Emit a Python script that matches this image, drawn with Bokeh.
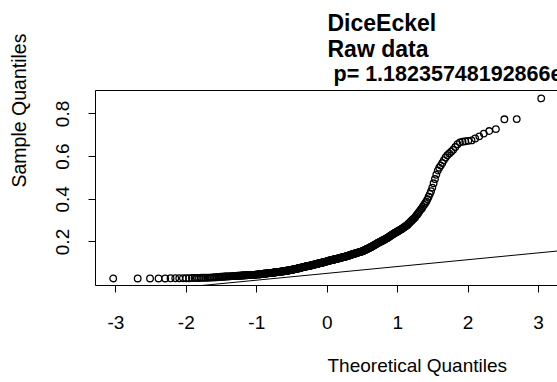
import math
from statistics import NormalDist
from bokeh.plotting import figure
from bokeh.models import Range1d, FixedTicker, Label, BoxAnnotation
from bokeh.embed import file_html
from bokeh.resources import INLINE

# ---------------- data ----------------
title_lines = ["DiceEckel", "Raw data", "p= 1.18235748192866e"]
x_axis_title = "Theoretical Quantiles"
y_axis_title = "Sample Quantiles"
x_ticks = [-3, -2, -1, 0, 1, 2, 3]
y_ticks = [0.2, 0.4, 0.6, 0.8]

# sorted sample values (one per plotted circle)
sample_quantiles = [
    0.029, 0.029, 0.029, 0.029, 0.029, 0.030, 0.030, 0.030, 0.030, 0.030,
    0.030, 0.031, 0.031, 0.031, 0.031, 0.032, 0.032,
    0.032, 0.032, 0.033, 0.033, 0.034, 0.034, 0.035, 0.035, 0.036, 0.036, 0.037,
    0.037, 0.037, 0.038, 0.038, 0.038, 0.039, 0.039, 0.039, 0.040, 0.040, 0.040,
    0.041, 0.041, 0.041, 0.042, 0.042,
    0.042, 0.042, 0.043, 0.043, 0.043, 0.043, 0.044, 0.044, 0.044, 0.044, 0.045,
    0.045, 0.045, 0.045, 0.045, 0.046, 0.046, 0.046, 0.046, 0.046, 0.047, 0.047, 0.047,
    0.048, 0.048, 0.048, 0.049, 0.049, 0.049, 0.050, 0.050, 0.050, 0.051, 0.051,
    0.051, 0.052, 0.052, 0.052, 0.053, 0.053, 0.053, 0.054, 0.054, 0.054, 0.055,
    0.055, 0.055, 0.056, 0.056, 0.056, 0.057,
    0.057, 0.058, 0.058, 0.058, 0.059, 0.059, 0.059, 0.060, 0.060, 0.060, 0.061,
    0.061, 0.061, 0.062, 0.062, 0.062, 0.063, 0.063, 0.063, 0.064, 0.064, 0.064,
    0.065, 0.065, 0.065, 0.066, 0.066, 0.066, 0.067, 0.067, 0.068, 0.068, 0.069,
    0.069, 0.070,
    0.070, 0.071, 0.071, 0.072, 0.072, 0.073, 0.073, 0.074, 0.074, 0.075, 0.075,
    0.076, 0.076, 0.077, 0.077, 0.078, 0.078, 0.079, 0.079, 0.080, 0.080, 0.081,
    0.081, 0.082, 0.082, 0.083, 0.083, 0.084, 0.084, 0.085, 0.085, 0.086, 0.086,
    0.087, 0.087, 0.087, 0.088, 0.088,
    0.089, 0.089, 0.090, 0.090, 0.091, 0.091, 0.092, 0.092, 0.093, 0.093, 0.094,
    0.094, 0.095, 0.095, 0.096, 0.096, 0.097, 0.097, 0.098, 0.098, 0.099, 0.099,
    0.100, 0.100, 0.101, 0.101, 0.102, 0.102, 0.103, 0.103, 0.104, 0.104, 0.105,
    0.105, 0.106, 0.106, 0.107, 0.107, 0.108, 0.108, 0.109, 0.110,
    0.110, 0.111, 0.111, 0.112, 0.112, 0.113, 0.113, 0.114, 0.114, 0.115, 0.115,
    0.116, 0.116, 0.117, 0.117, 0.118, 0.118, 0.119, 0.119, 0.120, 0.120, 0.121,
    0.121, 0.122, 0.122, 0.123, 0.123, 0.124, 0.124, 0.125, 0.125, 0.126, 0.126,
    0.127, 0.127, 0.128, 0.128, 0.129, 0.129, 0.130, 0.130,
    0.131, 0.131, 0.132, 0.133, 0.133, 0.134, 0.135, 0.135, 0.136, 0.137, 0.137,
    0.138, 0.139, 0.139, 0.140, 0.141, 0.141, 0.142, 0.143, 0.143, 0.144, 0.145,
    0.145, 0.146, 0.147, 0.147, 0.148, 0.149, 0.149, 0.150, 0.151, 0.151, 0.152,
    0.153, 0.153, 0.154, 0.155, 0.155, 0.156,
    0.157, 0.158, 0.159, 0.160, 0.161, 0.162, 0.163, 0.164, 0.166, 0.167, 0.168,
    0.169, 0.170, 0.171, 0.172, 0.174, 0.175, 0.176, 0.177, 0.179, 0.180, 0.182,
    0.183, 0.184, 0.186, 0.187, 0.189, 0.190, 0.192, 0.193, 0.195, 0.196, 0.197,
    0.199, 0.200,
    0.201, 0.203, 0.204, 0.206, 0.207, 0.209, 0.210, 0.211, 0.213, 0.214, 0.216, 0.217,
    0.219, 0.221, 0.223, 0.225, 0.227, 0.229, 0.231, 0.233, 0.235, 0.237, 0.239,
    0.241, 0.243, 0.244, 0.246, 0.248,
    0.250, 0.252, 0.254, 0.256, 0.258, 0.260, 0.262, 0.265, 0.267, 0.270, 0.272,
    0.275, 0.277, 0.280,
    0.284, 0.288, 0.292, 0.296, 0.300, 0.304, 0.308, 0.312, 0.316,
    0.322, 0.328, 0.334, 0.340, 0.346, 0.352, 0.358,
    0.366, 0.374, 0.382, 0.390,
    0.400, 0.412, 0.425, 0.438,
    0.455, 0.475, 0.495, 0.515,
    0.535, 0.548, 0.558, 0.570, 0.583, 0.596,
    0.607, 0.615, 0.623, 0.632, 0.645, 0.658, 0.667, 0.670, 0.672,
    0.674, 0.676, 0.685, 0.695, 0.708, 0.720, 0.729, 0.775, 0.776, 0.873,
]

# reference line (as drawn in the picture)
qqline_intercept = 0.053
qqline_slope = 0.032

# theoretical normal quantiles for the sorted sample (R's ppoints, a = 0.5)
n = len(sample_quantiles)
nd = NormalDist()
theoretical_quantiles = [nd.inv_cdf((i + 0.5) / n) for i in range(n)]

# ---------------- layout constants ----------------
W, H = 557, 382
FONT = "Liberation Sans"
BOX_X0, BOX_X1 = -3.289, 3.30      # plotting box in data units (right side is off-page)
BOX_Y0, BOX_Y1 = -0.004, 0.910
BOX_LEFT_PX, BOX_TOP_PX, BOX_BOTTOM_PX = 95, 90, 285
PX_PER_X = 70.45
PX_PER_Y = (BOX_BOTTOM_PX - BOX_TOP_PX) / (BOX_Y1 - BOX_Y0)

x_start = BOX_X0 - BOX_LEFT_PX / PX_PER_X
x_end = x_start + W / PX_PER_X
y_start = BOX_Y0 - (H - BOX_BOTTOM_PX) / PX_PER_Y
y_end = y_start + H / PX_PER_Y

p = figure(
    width=W, height=H,
    output_backend="svg", toolbar_location=None, tools="",
    x_range=Range1d(x_start, x_end), y_range=Range1d(y_start, y_end),
    min_border_left=0, min_border_right=0, min_border_top=0, min_border_bottom=0,
)
p.outline_line_color = None
p.grid.visible = False
p.background_fill_color = "white"
p.border_fill_color = "white"

for ax in (p.xaxis[0], p.yaxis[0]):
    ax.axis_line_color = None
    ax.major_tick_in = 0
    ax.major_tick_out = 7
    ax.major_tick_line_color = "black"
    ax.major_tick_line_width = 1
    ax.minor_tick_line_color = None
    ax.major_label_text_font = FONT
    ax.major_label_text_font_size = "19px"
    ax.major_label_text_color = "black"

p.xaxis[0].fixed_location = BOX_Y0
p.xaxis[0].ticker = FixedTicker(ticks=x_ticks)
p.xaxis[0].major_label_overrides = {t: str(t) for t in x_ticks}
p.xaxis[0].major_label_standoff = 23
p.yaxis[0].fixed_location = BOX_X0
p.yaxis[0].ticker = FixedTicker(ticks=y_ticks)
p.yaxis[0].major_label_overrides = {t: str(t) for t in y_ticks}
p.yaxis[0].major_label_orientation = "vertical"
p.yaxis[0].major_label_standoff = 19

# the box around the plotting region
p.add_layout(BoxAnnotation(left=BOX_X0, right=BOX_X1, bottom=BOX_Y0, top=BOX_Y1,
                           fill_alpha=0, line_color="black", line_alpha=1,
                           line_width=1))

p.scatter(theoretical_quantiles, sample_quantiles, marker="circle", size=6.6,
          fill_color=None, line_color="black", line_width=1.3)

# reference line, clipped to the box
line_x = [(BOX_Y0 - qqline_intercept) / qqline_slope, BOX_X1]
line_y = [qqline_intercept + qqline_slope * x for x in line_x]
p.line(line_x, line_y, line_color="black", line_width=1)

# texts (screen units: from the canvas' left and bottom); SHIFT compensates the
# distance between the label anchor and the glyph baseline
SHIFT = 8
title_pos = [(327, H - 30.0 + SHIFT), (327, H - 56.7 + SHIFT), (333, H - 81.7 + SHIFT)]
title_size = ["23px", "23px", "21.5px"]
for txt, (tx, ty), fs in zip(title_lines, title_pos, title_size):
    p.add_layout(Label(x=tx, y=ty, x_units="screen", y_units="screen", text=txt,
                       text_font=FONT, text_font_style="bold",
                       text_font_size=fs, text_color="black",
                       text_align="left", text_baseline="alphabetic"))

p.add_layout(Label(x=327, y=H - 372.7 + SHIFT, x_units="screen", y_units="screen",
                   text=x_axis_title, text_font=FONT, text_font_size="19px",
                   text_color="black", text_align="left",
                   text_baseline="alphabetic"))
p.add_layout(Label(x=25.5 - SHIFT + 0.5, y=H - 187, x_units="screen", y_units="screen",
                   angle=math.pi / 2, text=y_axis_title, text_font=FONT,
                   text_font_size="19.5px", text_color="black",
                   text_align="left", text_baseline="alphabetic"))

open("out.html", "w").write(file_html(p, INLINE))
